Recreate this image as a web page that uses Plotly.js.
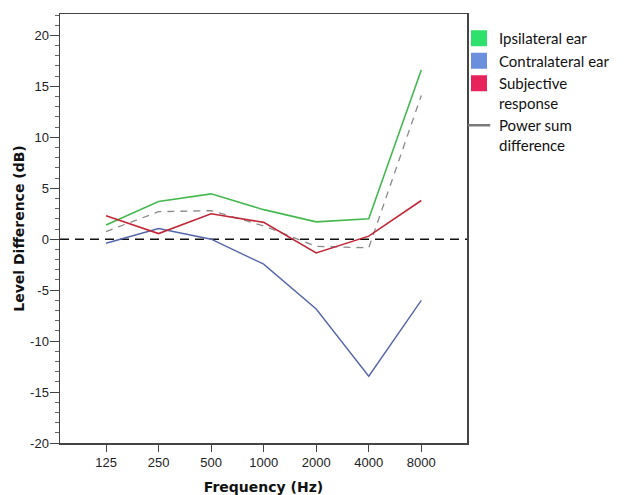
<!DOCTYPE html>
<html>
<head>
<meta charset="utf-8">
<script src="https://cdn.plot.ly/plotly-3.0.1.min.js"></script>
<style>html,body{margin:0;padding:0;background:#fff;}#chart{width:624px;height:495px;}</style>
</head>
<body>
<div id="chart"></div>
<script>
const frequencies = ["125", "250", "500", "1000", "2000", "4000", "8000"];
const ipsilateral = [1.4, 3.7, 4.45, 2.9, 1.7, 2.0, 16.6];
const contralateral = [-0.4, 1.05, 0.0, -2.45, -6.85, -13.45, -6.0];
const subjective = [2.3, 0.55, 2.5, 1.65, -1.35, 0.3, 3.8];
const powerSum = [0.75, 2.7, 2.8, 1.3, -0.7, -0.85, 14.1];
const seriesNames = ["Ipsilateral ear", "Contralateral ear", "Subjective<br>response", "Power sum<br>difference"];
const yTickVals = [-20, -15, -10, -5, 0, 5, 10, 15, 20];
const yTickText = ["-20", "-15", "-10", "-5", "0", "5", "10", "15", "20"];

const xi = frequencies.map((_, i) => i);

const traces = [
  {x: xi, y: ipsilateral, mode: 'lines', line: {color: '#45b84f', width: 1.6}, showlegend: false, hoverinfo: 'skip'},
  {x: xi, y: contralateral, mode: 'lines', line: {color: '#5565aa', width: 1.4}, showlegend: false, hoverinfo: 'skip'},
  {x: xi, y: powerSum, mode: 'lines', line: {color: '#8a8a8a', width: 1.3, dash: '7px,6px'}, showlegend: false, hoverinfo: 'skip'},
  {x: xi, y: subjective, mode: 'lines', line: {color: '#c02838', width: 1.6}, showlegend: false, hoverinfo: 'skip'},
  {x: [null], y: [null], mode: 'markers', name: seriesNames[0], marker: {symbol: 'square', size: 16, color: '#2ee06c'}},
  {x: [null], y: [null], mode: 'markers', name: seriesNames[1], marker: {symbol: 'square', size: 16, color: '#6a8fdc'}},
  {x: [null], y: [null], mode: 'markers', name: seriesNames[2], marker: {symbol: 'square', size: 16, color: '#e8235c'}},
  {x: [null], y: [null], mode: 'markers', name: seriesNames[3], marker: {symbol: 'line-ew-open', size: 19, color: '#7a7a7a', line: {color: '#7a7a7a', width: 2.5}}}
];

const layout = {
  width: 624, height: 495,
  margin: {l: 60, r: 157, t: 14, b: 52, autoexpand: false},
  paper_bgcolor: '#fff', plot_bgcolor: '#fff',
  font: {family: 'Liberation Sans, Arial, sans-serif', size: 13, color: '#222'},
  xaxis: {
    range: [-0.876, 6.87],
    tickvals: xi, ticktext: frequencies,
    ticks: 'outside', ticklen: 7, tickcolor: '#444',
    showgrid: false, zeroline: false,
    showline: true, linecolor: '#444', linewidth: 1.5, mirror: true,
    tickfont: {size: 13, color: '#222'},
    title: {text: 'Frequency (Hz)', font: {size: 14, color: '#111', family: 'DejaVu Sans, sans-serif', weight: 'bold'}, standoff: 14}
  },
  yaxis: {
    range: [-20, 22.1],
    tickvals: yTickVals, ticktext: yTickText,
    ticks: 'outside', ticklen: 9, tickcolor: '#444', ticklabelstandoff: -2,
    minor: {dtick: 1, ticks: 'outside', ticklen: 4, tickcolor: '#666', showgrid: false},
    showgrid: false, zeroline: false,
    showline: true, linecolor: '#444', linewidth: 1.5, mirror: true,
    tickfont: {size: 13, color: '#222'},
    title: {text: 'Level Difference (dB)', font: {size: 14, color: '#111', family: 'DejaVu Sans, sans-serif', weight: 'bold'}, standoff: 2}
  },
  shapes: [{type: 'line', xref: 'paper', x0: 0, x1: 1, yref: 'y', y0: 0, y1: 0, line: {color: '#111', width: 1.6, dash: '9px,6px'}, layer: 'below'}],
  legend: {
    xref: 'container', yref: 'container',
    x: 459 / 624, xanchor: 'left', y: 1 - 22 / 495, yanchor: 'top',
    font: {family: 'Lato, sans-serif', size: 15, color: '#111'},
    bgcolor: 'rgba(0,0,0,0)', borderwidth: 0,
    itemwidth: 30, tracegroupgap: 0, valign: 'top'
  },
  showlegend: true
};

Plotly.newPlot('chart', traces, layout, {displayModeBar: false, staticPlot: true});
</script>
</body>
</html>
